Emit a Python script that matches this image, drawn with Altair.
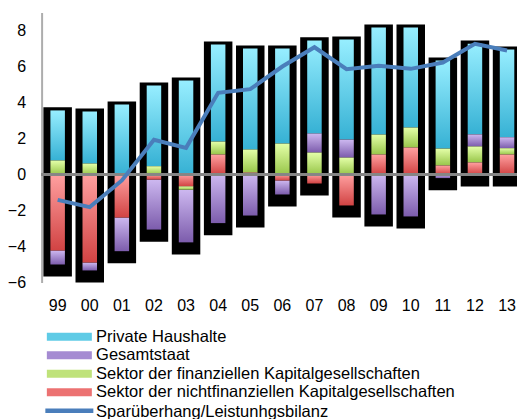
import altair as alt
import pandas as pd

years = ["99", "00", "01", "02", "03", "04", "05", "06", "07", "08", "09", "10", "11", "12", "13"]
private_hh = [2.78, 2.89, 3.89, 4.48, 5.22, 5.39, 5.61, 5.28, 5.17, 5.56, 5.94, 5.56, 4.89, 5.04, 4.87]
gesamtstaat = [-0.78, -0.44, -1.87, -2.78, -2.93, -2.70, -2.28, -0.78, 1.06, 1.00, -2.22, -2.33, -0.20, 0.67, 0.61]
fin_sektor = [0.78, 0.61, 0.0, 0.46, -0.19, 0.72, 1.28, 1.72, 1.22, 0.94, 1.11, 1.11, 0.94, 0.89, 0.35]
nichtfin_sektor = [-4.22, -4.89, -2.39, -0.28, -0.65, 1.11, 0.11, -0.33, -0.50, -1.72, 1.11, 1.50, 0.50, 0.67, 1.11]
sparueberhang = [-1.41, -1.81, -0.33, 1.93, 1.48, 4.54, 4.74, 6.00, 7.07, 5.85, 6.04, 5.87, 6.22, 7.26, 6.89]
y_ticks = [-6, -4, -2, 0, 2, 4, 6, 8]

names = [
    "Private Haushalte",
    "Gesamtstaat",
    "Sektor der finanziellen Kapitalgesellschaften",
    "Sektor der nichtfinanziellen Kapitalgesellschaften",
]
line_name = "Sparüberhang/Leistunhgsbilanz"
solid = ["#5FCBE6", "#A58BD2", "#BFE27A", "#EC7272"]
grad_cols = {
    names[0]: ("#97EEFF", "#36B1D4"),
    names[1]: ("#CDB8F0", "#7C5CAC"),
    names[2]: ("#E4FFA8", "#98C64A"),
    names[3]: ("#FFA0A0", "#D14343"),
}

# stacking order from the zero line outward
stack_order = [(names[3], nichtfin_sektor), (names[2], fin_sektor), (names[1], gesamtstaat), (names[0], private_hh)]
rows, frame = [], []
for i, yr in enumerate(years):
    pos, neg = 0.0, 0.0
    for nm, vals in stack_order:
        v = vals[i]
        if v >= 0:
            y0, y1 = pos, pos + v
            pos = y1
        else:
            y0, y1 = neg, neg + v
            neg = y1
        rows.append({"year": yr, "series": nm, "lo": y0, "hi": y1})
    frame.append({"year": yr, "hi": pos + 0.17, "lo": neg - 0.67})
bars = pd.DataFrame(rows)
frames = pd.DataFrame(frame)
line_df = pd.DataFrame({"year": years, "hi": sparueberhang, "name": line_name})

FONT = "Liberation Sans"
x_axis = alt.Axis(title=None, labelAngle=0, domain=False, ticks=False, labelFontSize=16,
                  labelPadding=15, labelColor="#000", labelFont=FONT, labelOverlap=False)
x_scale = alt.Scale(range=[0, 481.5], paddingInner=0, paddingOuter=0)
y_axis = alt.Axis(title=None, values=y_ticks, grid=False, ticks=False,
                  domainColor="#ADADAD", domainWidth=2, labelFontSize=16,
                  labelPadding=16, labelColor="#000", labelFont=FONT,
                  labelOverlap=False, labelFlush=False)
y_scale = alt.Scale(domain=[-6, 9], nice=False, zero=False)


def X():
    return alt.X("year:N", sort=years, scale=x_scale, axis=x_axis)


def Y():
    return alt.Y("hi:Q", scale=y_scale, axis=y_axis)


black = alt.Chart(frames).mark_bar(color="#000", size=28.5).encode(x=X(), y=Y(), y2="lo:Q")

layers = [black]
for nm in names:
    top_c, bot_c = grad_cols[nm]
    grad = alt.LinearGradient(
        gradient="linear", x1=0, x2=0, y1=0, y2=1,
        stops=[alt.GradientStop(color=top_c, offset=0), alt.GradientStop(color=bot_c, offset=1)],
    )
    layers.append(
        alt.Chart(bars).transform_filter(alt.datum.series == nm)
        .mark_bar(fill=grad, size=14.5)
        .encode(x=X(), y=Y(), y2="lo:Q")
    )

legend_bars = alt.Chart(bars).mark_bar(opacity=0, size=1).encode(
    x=X(), y=Y(), y2="lo:Q",
    color=alt.Color("series:N", scale=alt.Scale(domain=names, range=solid),
                    legend=alt.Legend(title=None, orient="none", legendX=2, legendY=316,
                                      symbolType="M-1,-0.8H8V0.8H-1Z", symbolSize=100,
                                      symbolOpacity=1, symbolStrokeWidth=0, labelFontSize=16.5,
                                      labelFont=FONT, labelColor="#000",
                                      labelLimit=600, rowPadding=1.5, padding=0, labelOffset=36)),
)

zero = alt.Chart(line_df).mark_rule(color="#858585", strokeWidth=2).encode(
    y=alt.Y(datum=0, scale=y_scale, axis=y_axis))

line = alt.Chart(line_df).mark_line(strokeWidth=4).encode(
    x=X(),
    y=Y(),
    stroke=alt.Stroke("name:N", scale=alt.Scale(range=["#4A7EBB"]),
                      legend=alt.Legend(title=None, orient="none", legendX=2, legendY=391,
                                        symbolType="M-1.3,-0.2H8.3", symbolSize=100, symbolStrokeWidth=4.5,
                                        symbolFillColor="transparent",
                                        labelFontSize=16.5, labelFont=FONT,
                                        labelColor="#000", labelLimit=600, padding=0, labelOffset=36)),
)

chart = alt.layer(*layers, legend_bars, zero, line).properties(
    width=475.4, height=270,
    padding={"left": 33.6, "top": 4.5, "right": 0, "bottom": 136.5},
    autosize=alt.AutoSizeParams(type="none"),
).configure_view(stroke=None).configure_axis(labelOverlap=False)

chart.save("out.html", embed_options={"renderer": "svg", "actions": False})
